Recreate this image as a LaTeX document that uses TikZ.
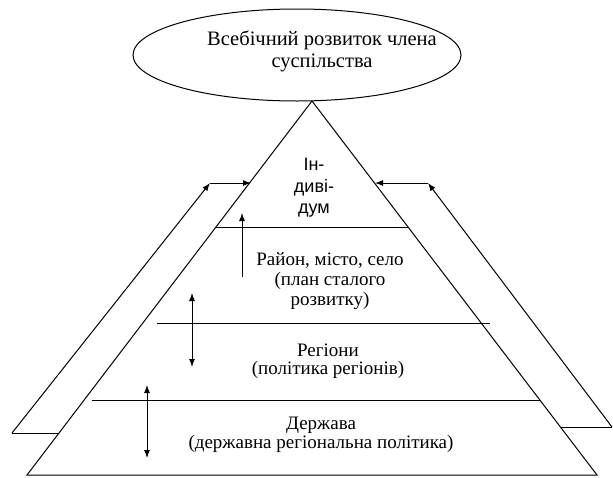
\documentclass[tikz,border=0pt]{standalone}
\usepackage{fontspec}
\setmainfont{Liberation Serif}
\newfontfamily\pyrsans{Liberation Sans}
\usetikzlibrary{arrows.meta,shapes.geometric}

\tikzset{
  goal/.style={draw,ellipse,minimum width=328pt,minimum height=92pt,inner sep=0pt},
  layertext/.style={align=center,inner sep=0pt,font=\fontsize{19}{19.5}\selectfont},
  tip/.style={-{Latex[length=8pt,width=6pt]}},
  twotip/.style={{Latex[length=8pt,width=6pt]}-{Latex[length=8pt,width=6pt]}}
}

\begin{document}
\begin{tikzpicture}[x=1pt,y=-1pt,line width=1pt]
  \useasboundingbox (0,0) rectangle (613,477);
  % goal on top
  \node[goal] (goal) at (297,55) {};
  \node[layertext,font=\fontsize{20.5}{22}\selectfont] (goaltext) at (322,51)
    {Всебічний розвиток члена\\суспільства};
  % pyramid
  \coordinate (apex) at (312,101);
  \coordinate (bl) at (27,475);
  \coordinate (br) at (597,475);
  \draw (bl) -- (apex) -- (br) -- cycle;
  \draw (216,227) -- (408,227);
  \draw (157,323) -- (490,323);
  \draw (92,400) -- (540,400);
  % layers
  \node[layertext,font=\pyrsans\fontsize{18}{21.5}\selectfont] (indiv) at (314,188) {Ін-\\диві-\\дум};
  \node[layertext,font=\fontsize{19}{20}\selectfont] (rayon) at (330,281) {Район, місто, село\\(план сталого\\розвитку)};
  \node[layertext,font=\fontsize{19}{17.5}\selectfont] (regions) at (328,361) {Регіони\\(політика регіонів)};
  \node[layertext] (state) at (321,435) {Держава\\(державна регіональна політика)};
  % feedback frames
  \coordinate (lfoot) at (59,433);
  \coordinate (lbot) at (12,433);
  \coordinate (ltop) at (210,183);
  \coordinate (lin) at (251,183);
  \draw (lfoot) -- (lbot);
  \draw[tip] (lbot) -- (ltop);
  \draw[tip] (ltop) -- (lin);
  \coordinate (rfoot) at (561,427);
  \coordinate (rbot) at (612,427);
  \coordinate (rtop) at (428,183);
  \coordinate (rin) at (375,183);
  \draw (rfoot) -- (rbot);
  \draw[tip] (rbot) -- (rtop);
  \draw[tip] (rtop) -- (rin);
  % arrows between layers
  \draw[tip] (242,277) -- (242,213);
  \draw[twotip] (192,293) -- (192,367);
  \draw[twotip] (147,385) -- (147,458);
\end{tikzpicture}
\end{document}
